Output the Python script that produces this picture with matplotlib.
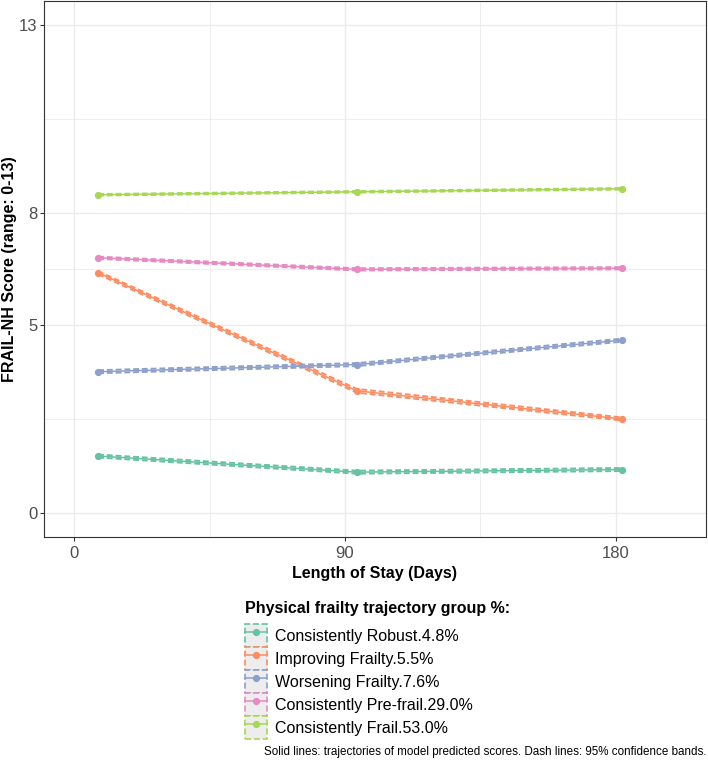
import matplotlib.pyplot as plt
from matplotlib.lines import Line2D
from matplotlib.patches import Patch

plt.rcParams['font.family'] = ['Liberation Sans', 'DejaVu Sans']

# values
days = [8, 94, 182]
groups = ['Consistently Robust.4.8%', 'Improving Frailty.5.5%', 'Worsening Frailty.7.6%',
          'Consistently Pre-frail.29.0%', 'Consistently Frail.53.0%']
colors = ['#66C2A5', '#FC8D62', '#8DA0CB', '#E78AC3', '#A6D854']

robust = [1.51, 1.08, 1.15]
improving = [6.40, 3.25, 2.50]
worsening = [3.76, 3.95, 4.60]
prefrail = [6.80, 6.49, 6.52]
frail = [8.48, 8.56, 8.64]

# 95% confidence bands (very narrow)
robust_lo = [1.47, 1.04, 1.11]
robust_hi = [1.55, 1.12, 1.19]
improving_lo = [6.36, 3.20, 2.46]
improving_hi = [6.44, 3.30, 2.54]
worsening_lo = [3.72, 3.91, 4.56]
worsening_hi = [3.80, 3.99, 4.64]
prefrail_lo = [6.77, 6.46, 6.49]
prefrail_hi = [6.83, 6.52, 6.55]
frail_lo = [8.46, 8.54, 8.62]
frail_hi = [8.50, 8.58, 8.66]

preds = [robust, improving, worsening, prefrail, frail]
lows = [robust_lo, improving_lo, worsening_lo, prefrail_lo, frail_lo]
highs = [robust_hi, improving_hi, worsening_hi, prefrail_hi, frail_hi]

fig = plt.figure(figsize=(7.08, 7.65), dpi=100)
ax = fig.add_axes([44 / 708, 1 - 537 / 765, 662 / 708, 536 / 765])

for y, lo, hi, c in zip(preds, lows, highs, colors):
    ax.plot(days, lo, color=c, lw=1.4, ls=(0, (3, 1.5)))
    ax.plot(days, hi, color=c, lw=1.4, ls=(0, (3, 1.5)))
    ax.plot(days, y, color=c, lw=1.1, marker='o', ms=4.2)

ax.set_xlim(-10, 210)
ax.set_ylim(-0.65, 13.65)
ax.set_xticks([0, 90, 180])
ax.set_xticks([45, 135], minor=True)
ax.set_yticks([0, 5, 8, 13])
ax.set_yticks([2.5, 6.5, 10.5], minor=True)
ax.grid(True, which='major', color='#EBEBEB', lw=1.0)
ax.grid(True, which='minor', color='#EBEBEB', lw=0.6)
ax.set_axisbelow(True)
ax.tick_params(which='major', length=2.75, color='#333333', labelsize=12, labelcolor='#4D4D4D')
ax.tick_params(axis='y', pad=2)
ax.tick_params(axis='x', pad=3.5)
ax.tick_params(which='minor', length=0)
for s in ax.spines.values():
    s.set_color('#333333')
    s.set_linewidth(0.8)

ax.set_xlabel('Length of Stay (Days)', fontsize=11.5, fontweight='bold', labelpad=4)
ax.set_ylabel('FRAIL-NH Score (range: 0-13)', fontsize=11.5, fontweight='bold')
ax.yaxis.set_label_coords(-27 / 662, 0.5)

handles = []
for c in colors:
    box = Patch(facecolor='#EDEDED', edgecolor=c, linestyle='--', linewidth=1.2)
    ln = Line2D([], [], color=c, marker='o', ms=4.2, lw=1.1)
    handles.append((box, ln))

fig.text(245 / 708, 1 - 608 / 765, 'Physical frailty trajectory group %:',
         ha='left', va='center', fontsize=11.5, fontweight='bold')
fig.legend(handles, groups, loc='upper left', bbox_to_anchor=(245 / 708, 1 - 624 / 765),
           frameon=False, fontsize=11.5, handlelength=1.35, handleheight=1.84,
           labelspacing=0.0, handletextpad=0.5, borderpad=0.0, borderaxespad=0.0)

fig.text(706 / 708, 1 - 752 / 765,
         'Solid lines: trajectories of model predicted scores. Dash lines: 95% confidence bands.',
         ha='right', va='center', fontsize=8.4)

fig.savefig('out.png', dpi=100)
